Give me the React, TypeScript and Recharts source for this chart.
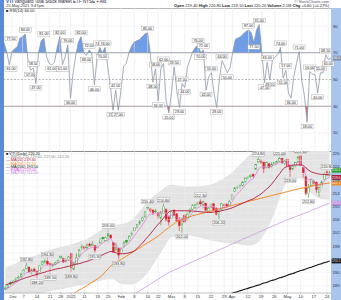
import React from "react";
import { ComposedChart, Line, Area, Bar, XAxis, YAxis, ReferenceLine, ReferenceDot, LabelList } from "recharts";

const days = [
  "Nov 25", "Nov 27", "Nov 30",
  "Dec 1", "Dec 2", "Dec 3", "Dec 4", "Dec 7", "Dec 8", "Dec 9", "Dec 10", "Dec 11", "Dec 14", "Dec 15", "Dec 16", "Dec 17", "Dec 18", "Dec 21", "Dec 22", "Dec 23", "Dec 24", "Dec 28", "Dec 29", "Dec 30", "Dec 31",
  "Jan 4", "Jan 5", "Jan 6", "Jan 7", "Jan 8", "Jan 11", "Jan 12", "Jan 13", "Jan 14", "Jan 15", "Jan 19", "Jan 20", "Jan 21", "Jan 22", "Jan 25", "Jan 26", "Jan 27", "Jan 28", "Jan 29",
  "Feb 1", "Feb 2", "Feb 3", "Feb 4", "Feb 5", "Feb 8", "Feb 9", "Feb 10", "Feb 11", "Feb 12", "Feb 16", "Feb 17", "Feb 18", "Feb 19", "Feb 22", "Feb 23", "Feb 24", "Feb 25", "Feb 26",
  "Mar 1", "Mar 2", "Mar 3", "Mar 4", "Mar 5", "Mar 8", "Mar 9", "Mar 10", "Mar 11", "Mar 12", "Mar 15", "Mar 16", "Mar 17", "Mar 18", "Mar 19", "Mar 22", "Mar 23", "Mar 24", "Mar 25", "Mar 26", "Mar 29", "Mar 30", "Mar 31",
  "Apr 1", "Apr 5", "Apr 6", "Apr 7", "Apr 8", "Apr 9", "Apr 12", "Apr 13", "Apr 14", "Apr 15", "Apr 16", "Apr 19", "Apr 20", "Apr 21", "Apr 22", "Apr 23", "Apr 26", "Apr 27", "Apr 28", "Apr 29", "Apr 30",
  "May 3", "May 4", "May 5", "May 6", "May 7", "May 10", "May 11", "May 12", "May 13", "May 14", "May 17", "May 18", "May 19", "May 20", "May 21", "May 24", "May 25",
];

// oscillator (top panel)
const osc = [
  77.5, 71, 61, 71, 73, 74.5, 81, 82, 84, 65,
  57, 58.5, 47, 70, 79, 81, 67, 62, 61, 63,
  74, 82, 61, 67, 76, 36, 55, 68, 78, 82,
  70, 68, 72, 70, 46, 66, 74, 70, 74, 60,
  45, 27, 42, 27, 42, 60, 62, 70, 75, 78,
  79, 80, 82, 84, 85, 70, 48, 58, 34, 58,
  62, 34, 25, 40, 59.5, 42, 29, 47, 44, 59.5,
  65, 71, 74, 76, 70, 72, 42, 52, 55, 40,
  29, 50, 64, 60, 55, 58.5, 70, 80, 81, 82,
  84, 86, 87, 85, 77.5, 87, 91, 70, 47.5, 63,
  49.5, 65, 67, 68.5, 74, 51, 57, 40, 36, 52,
  62, 71, 49.5, 38, 18, 56, 54, 53.5, 40, 55,
  55, 68.5, 65, 66,
];

// daily prices
const opens = [
  185.0, 185.6, 186.9, 186.8, 187.6, 188.2, 188.9, 189.8, 191.2, 191.6,
  190.0, 191.0, 190.4, 190.0, 192.4, 193.0, 193.4, 192.8, 192.0, 192.5,
  193.0, 195.0, 194.2, 193.5, 194.0, 195.8, 191.0, 192.8, 195.0, 197.6,
  197.9, 197.5, 198.6, 198.1, 198.2, 197.6, 199.0, 200.6, 199.7, 201.8,
  201.3, 199.0, 197.0, 197.2, 196.0, 197.8, 199.8, 200.0, 201.5, 202.8,
  203.8, 205.0, 205.8, 207.0, 209.8, 208.8, 208.9, 208.4, 208.2, 206.5,
  208.0, 209.0, 206.8, 206.5, 208.9, 207.8, 205.9, 204.5, 207.2, 206.0,
  208.0, 209.2, 209.8, 210.6, 211.4, 210.6, 211.0, 208.6, 209.8, 210.8,
  209.3, 207.9, 209.2, 210.2, 210.6, 210.4, 212.2, 214.5, 215.7, 216.0,
  216.4, 217.6, 218.4, 219.0, 219.8, 221.3, 223.5, 224.0, 223.4, 221.9,
  222.9, 222.0, 222.9, 223.5, 223.8, 224.6, 223.0, 224.3, 222.4, 221.4,
  222.3, 223.6, 225.3, 221.8, 219.0, 214.0, 216.4, 217.6, 217.3, 214.2,
  216.0, 218.2, 220.6, 219.4,
];
const highs = [
  185.8, 186.4, 187.3, 187.9, 188.5, 189.0, 190.0, 191.3, 192.8, 191.9,
  191.2, 191.5, 190.7, 192.3, 193.6, 194.1, 194.3, 193.0, 192.8, 193.2,
  194.1, 195.2, 194.5, 194.2, 195.0, 196.0, 193.1, 195.9, 197.1, 198.5,
  198.1, 198.8, 199.0, 199.5, 198.4, 198.9, 200.4, 200.8, 200.9, 203.0,
  201.6, 199.2, 199.0, 197.5, 197.6, 199.6, 200.2, 201.3, 202.4, 203.8,
  204.7, 205.9, 206.9, 208.6, 210.4, 209.6, 209.1, 209.3, 208.4, 208.7,
  210.8, 209.5, 207.4, 208.7, 209.0, 208.0, 206.8, 206.6, 207.9, 208.2,
  209.4, 210.7, 210.6, 211.4, 212.3, 211.8, 211.1, 209.8, 210.9, 211.0,
  209.8, 208.9, 211.0, 210.9, 211.0, 212.0, 213.8, 215.9, 216.3, 216.6,
  217.6, 218.8, 219.1, 219.7, 220.1, 222.9, 224.8, 224.4, 223.6, 223.7,
  223.2, 223.4, 223.6, 224.0, 225.0, 224.7, 224.2, 224.6, 222.5, 222.8,
  223.5, 225.4, 225.6, 221.9, 219.2, 216.8, 218.5, 218.2, 217.6, 216.3,
  218.0, 220.4, 220.9, 220.8,
];
const lows = [
  184.6, 185.2, 186.0, 186.5, 187.1, 187.7, 188.4, 189.5, 190.9, 189.8,
  189.4, 189.9, 188.2, 189.8, 192.0, 192.7, 192.2, 189.5, 191.6, 192.1,
  192.8, 194.1, 192.9, 193.0, 193.6, 189.9, 190.8, 192.6, 194.8, 196.9,
  196.6, 197.0, 197.8, 198.0, 195.9, 197.2, 198.8, 199.7, 199.4, 199.1,
  200.0, 195.9, 196.6, 193.8, 195.3, 197.6, 198.7, 199.6, 201.0, 202.4,
  203.4, 204.4, 205.4, 206.6, 209.0, 208.2, 207.4, 207.9, 206.0, 204.3,
  207.8, 205.5, 204.2, 206.3, 207.1, 205.4, 202.6, 202.0, 205.1, 205.8,
  207.8, 209.0, 209.3, 210.0, 210.3, 209.6, 208.6, 208.2, 209.4, 208.7,
  207.3, 206.2, 208.9, 209.4, 209.6, 210.3, 211.9, 214.3, 215.3, 215.5,
  216.0, 217.2, 218.0, 218.6, 218.8, 221.1, 223.2, 222.8, 220.0, 221.5,
  221.5, 221.8, 222.7, 223.0, 223.5, 222.9, 222.6, 221.8, 219.0, 221.0,
  221.8, 223.4, 222.0, 218.8, 213.4, 212.6, 216.2, 216.0, 214.0, 213.0,
  215.8, 217.9, 219.2, 219.1,
];
const closes = [
  185.3, 186.0, 186.5, 187.4, 188.0, 188.6, 189.5, 190.8, 192.0, 190.2,
  190.8, 190.5, 189.3, 192.0, 193.2, 193.5, 192.6, 192.3, 192.3, 192.9,
  193.8, 194.4, 193.2, 193.8, 194.7, 191.4, 192.6, 194.4, 196.8, 198.0,
  197.4, 198.3, 198.0, 198.6, 196.8, 198.0, 200.1, 200.1, 200.5, 201.0,
  200.5, 196.2, 197.7, 195.3, 197.1, 199.0, 199.2, 201.0, 202.0, 203.5,
  204.4, 205.3, 206.5, 208.3, 209.5, 209.2, 208.0, 208.6, 207.1, 208.3,
  210.0, 205.9, 205.3, 208.3, 207.4, 205.6, 204.1, 206.2, 205.3, 207.7,
  208.6, 210.2, 210.5, 211.1, 210.8, 211.4, 208.9, 209.5, 210.5, 208.9,
  207.7, 208.6, 210.8, 210.5, 210.2, 211.4, 213.5, 215.6, 215.9, 216.2,
  217.4, 218.6, 218.9, 219.5, 219.2, 222.7, 224.2, 223.3, 221.5, 223.3,
  221.8, 222.7, 223.3, 223.6, 224.5, 223.3, 223.9, 222.1, 221.2, 222.1,
  223.3, 224.8, 222.4, 220.2, 213.8, 215.6, 218.2, 217.0, 215.2, 215.8,
  217.4, 219.8, 219.6, 220.2,
];

// overlays
const bbUpper = [
  191.4, 191.7, 192.0, 192.3, 192.6, 193.0, 193.3, 193.7, 194.0, 194.3,
  194.6, 194.9, 195.2, 195.5, 195.8, 196.1, 196.5, 196.8, 197.0, 197.2,
  197.4, 197.6, 197.8, 198.0, 198.2, 198.4, 198.6, 198.9, 199.2, 199.5,
  199.8, 200.2, 200.5, 201.0, 201.5, 202.0, 202.5, 203.0, 203.5, 204.0,
  204.4, 204.4, 204.4, 204.4, 204.6, 204.8, 205.0, 205.4, 205.8, 206.5,
  207.4, 208.4, 209.4, 210.5, 211.3, 212.0, 212.8, 213.5, 214.1, 214.7,
  215.3, 215.9, 216.4, 216.5, 216.4, 216.3, 216.2, 216.1, 216.0, 215.9,
  215.9, 216.0, 216.0, 216.1, 216.1, 216.2, 216.3, 216.4, 216.5, 216.8,
  217.2, 217.6, 218.0, 218.5, 219.0, 219.5, 220.2, 221.0, 221.8, 222.6,
  223.4, 224.2, 225.0, 225.6, 226.1, 226.6, 227.0, 227.2, 227.3, 227.3,
  227.2, 227.2, 227.1, 227.1, 227.0, 227.0, 226.9, 226.8, 226.7, 226.6,
  226.6, 226.5, 226.5, 226.5, 226.6, 226.7, 226.8, 226.8, 226.9, 226.9,
  227.0, 227.0, 227.0, 227.0,
];
const bbLower = [
  181.0, 181.3, 181.5, 181.8, 182.0, 182.3, 182.5, 182.7, 182.9, 183.1,
  183.3, 183.5, 183.6, 183.8, 183.9, 184.1, 184.3, 184.4, 184.6, 184.7,
  184.9, 185.0, 185.2, 185.4, 185.6, 185.7, 185.9, 186.0, 186.2, 186.3,
  186.5, 186.6, 186.8, 187.0, 187.2, 187.4, 187.6, 187.8, 188.0, 188.2,
  188.3, 188.0, 187.6, 187.0, 186.7, 186.6, 186.5, 186.5, 186.5, 186.7,
  187.1, 187.7, 188.4, 189.2, 190.2, 191.3, 192.5, 193.8, 195.0, 196.3,
  197.6, 198.9, 200.2, 200.8, 201.0, 201.1, 201.2, 201.2, 201.3, 201.4,
  201.4, 201.2, 201.0, 200.8, 200.6, 200.4, 200.2, 200.0, 199.8, 199.7,
  199.6, 199.4, 199.3, 199.2, 199.1, 199.0, 198.9, 198.8, 198.7, 198.6,
  198.5, 198.4, 198.3, 198.3, 198.5, 198.9, 199.5, 200.4, 201.6, 203.0,
  204.6, 206.4, 208.4, 210.6, 212.8, 215.0, 216.6, 217.4, 217.9, 218.3,
  218.5, 218.6, 218.6, 218.2, 216.8, 215.2, 214.2, 213.5, 213.0, 212.6,
  212.4, 212.3, 212.2, 212.2,
];
const ma20 = [
  186.2, 186.5, 186.8, 187.0, 187.3, 187.6, 187.9, 188.2, 188.5, 188.7,
  189.0, 189.2, 189.4, 189.7, 189.9, 190.1, 190.4, 190.6, 190.8, 191.0,
  191.2, 191.3, 191.5, 191.7, 191.9, 192.1, 192.3, 192.5, 192.7, 192.9,
  193.2, 193.4, 193.7, 194.0, 194.4, 194.7, 195.1, 195.4, 195.8, 196.1,
  196.4, 196.2, 196.0, 195.7, 195.7, 195.7, 195.8, 196.0, 196.2, 196.6,
  197.3, 198.1, 198.9, 199.9, 200.8, 201.7, 202.7, 203.7, 204.6, 205.5,
  206.5, 207.4, 208.3, 208.7, 208.7, 208.7, 208.7, 208.7, 208.7, 208.7,
  208.7, 208.6, 208.5, 208.5, 208.4, 208.3, 208.3, 208.2, 208.2, 208.3,
  208.4, 208.5, 208.7, 208.9, 209.1, 209.3, 209.6, 209.9, 210.3, 210.6,
  211.0, 211.3, 211.7, 212.0, 212.3, 212.8, 213.3, 213.8, 214.5, 215.2,
  215.9, 216.8, 217.8, 218.9, 219.9, 221.0, 221.8, 222.1, 222.3, 222.5,
  222.6, 222.6, 222.6, 222.4, 221.7, 221.0, 220.5, 220.2, 220.0, 219.8,
  219.7, 219.7, 219.6, 219.6,
];
const ema5 = [
  185.0, 185.3, 185.7, 186.3, 186.9, 187.4, 188.1, 189.0, 190.0, 190.1,
  190.3, 190.4, 190.0, 190.7, 191.5, 192.2, 192.3, 192.3, 192.3, 192.5,
  192.9, 193.4, 193.3, 193.5, 193.9, 193.1, 192.9, 193.4, 194.5, 195.7,
  196.3, 197.0, 197.3, 197.7, 197.4, 197.6, 198.4, 199.0, 199.5, 200.0,
  200.2, 198.9, 198.5, 197.4, 197.3, 197.9, 198.3, 199.2, 200.1, 201.2,
  202.3, 203.3, 204.4, 205.7, 207.0, 207.7, 207.8, 208.1, 207.8, 207.9,
  208.6, 207.7, 206.9, 207.4, 207.4, 206.8, 205.9, 206.0, 205.8, 206.4,
  207.1, 208.1, 208.9, 209.6, 210.0, 210.5, 210.0, 209.8, 210.0, 209.6,
  209.0, 208.9, 209.5, 209.8, 209.9, 210.4, 211.4, 212.8, 213.8, 214.6,
  215.5, 216.5, 217.3, 218.0, 218.4, 219.8, 221.3, 222.0, 221.8, 222.3,
  222.1, 222.3, 222.6, 222.9, 223.4, 223.4, 223.6, 223.1, 222.5, 222.4,
  222.7, 223.4, 223.1, 222.1, 219.3, 218.1, 218.1, 217.7, 216.9, 216.5,
  216.8, 217.8, 218.4, 219.0,
];
const ma50Start = 20;
const ma50 = [
  180.8, 181.2, 181.7, 182.2, 182.7, 183.2, 183.7, 184.2, 184.7, 185.1,
  185.6, 186.1, 186.6, 187.1, 187.6, 188.1, 188.6, 189.4, 190.3, 191.1,
  192.0, 192.5, 193.0, 193.5, 194.0, 194.5, 195.0, 195.5, 196.0, 196.5,
  197.0, 197.5, 198.0, 198.5, 199.0, 199.5, 200.0, 200.5, 201.1, 201.7,
  202.4, 203.0, 203.6, 204.2, 204.8, 205.4, 205.7, 206.0, 206.3, 206.6,
  206.9, 207.2, 207.4, 207.6, 207.8, 208.0, 208.2, 208.4, 208.6, 208.8,
  209.1, 209.3, 209.5, 209.7, 209.9, 210.1, 210.3, 210.5, 210.7, 210.9,
  211.1, 211.3, 211.5, 211.7, 211.9, 212.1, 212.3, 212.5, 212.7, 212.9,
  213.1, 213.3, 213.5, 213.7, 213.9, 214.1, 214.3, 214.5, 214.7, 214.9,
  215.1, 215.3, 215.5, 215.6, 215.8, 215.9, 216.1, 216.3, 216.5, 216.6,
  216.8, 216.9, 217.0, 217.1,
];
const ma150Start = 44;
const ma150 = [
  181.0, 181.5, 182.0, 182.5, 183.0, 183.5, 184.0, 184.5, 185.0, 185.5,
  186.0, 186.5, 187.0, 187.5, 188.0, 188.5, 189.0, 189.5, 190.0, 190.4,
  190.7, 191.1, 191.5, 191.8, 192.2, 192.5, 192.9, 193.2, 193.6, 194.0,
  194.3, 194.7, 195.0, 195.4, 195.8, 196.1, 196.5, 196.8, 197.2, 197.5,
  197.9, 198.3, 198.6, 199.0, 199.3, 199.7, 200.1, 200.4, 200.8, 201.1,
  201.5, 201.8, 202.2, 202.5, 202.9, 203.2, 203.6, 203.9, 204.3, 204.6,
  205.0, 205.3, 205.7, 206.0, 206.3, 206.6, 206.9, 207.2, 207.5, 207.8,
  208.1, 208.4, 208.8, 209.1, 209.4, 209.7, 210.1, 210.4, 210.7, 211.0,
];
const ma200Start = 80;
const ma200 = [
  182.2, 182.5, 182.7, 183.0, 183.2, 183.5, 183.7, 184.0, 184.2, 184.5,
  184.7, 185.0, 185.2, 185.5, 185.7, 186.0, 186.2, 186.5, 186.8, 187.0,
  187.3, 187.6, 187.8, 188.1, 188.4, 188.6, 188.9, 189.2, 189.5, 189.7,
  190.0, 190.3, 190.6, 190.8, 191.1, 191.4, 191.6, 191.9, 192.2, 192.5,
  192.7, 193.0, 193.2, 193.5,
];

const tickDays = ["Dec 1", "Dec 7", "Dec 14", "Dec 21", "Dec 28", "Jan 4", "Jan 11", "Jan 19", "Jan 25", "Feb 1", "Feb 8", "Feb 16", "Feb 22", "Mar 1", "Mar 8", "Mar 15", "Mar 22", "Mar 29", "Apr 1", "Apr 12", "Apr 19", "Apr 26", "May 3", "May 10", "May 17", "May 24"];
const tickLabels = ["Dec", "7", "14", "21", "28", "2021", "11", "19", "25", "Feb", "8", "16", "22", "Mar", "8", "15", "22", "29", "Apr", "12", "19", "26", "May", "10", "17", "24"];
const oscTicks = [10, 30, 50, 70, 90];
const priceTicks = [186, 188, 190, 192, 194, 196, 198, 200, 202, 204, 206, 208, 210, 212, 214, 216, 218, 220, 222, 224, 226];

const FONT = "'Liberation Sans', Arial, sans-serif";
const OSC_MIN = -3.5;
const OSC_MAX = 103.5;
const P_MIN = 183.8;
const P_MAX = 226.8;
const UP = "#2c9c2c";
const DOWN = "#e0202c";

const from = (arr: number[], start: number, i: number) => (i >= start ? arr[i - start] : null);

const oscRows = days.map((d, i) => ({ d, v: osc[i] }));
const priceRows = days.map((d, i) => ({
  d,
  o: opens[i],
  h: highs[i],
  l: lows[i],
  c: closes[i],
  pc: i > 0 ? closes[i - 1] : opens[i],
  hl: [lows[i], highs[i]],
  bb: [bbLower[i], bbUpper[i]],
  mid: ma20[i],
  ema: ema5[i],
  ma50: from(ma50, ma50Start, i),
  ma150: from(ma150, ma150Start, i),
  ma200: from(ma200, ma200Start, i),
}));

const last = days.length - 1;

function Candle(props: any) {
  const { x, y, width, height, payload } = props;
  if (!payload || x == null) return null;
  const top = Math.min(y, y + height);
  const hh = Math.abs(height);
  const { o, h, l, c, pc } = payload;
  const k = hh / (h - l || 1);
  const yo = top + (h - o) * k;
  const yc = top + (h - c) * k;
  const col = c >= pc ? UP : DOWN;
  const hollow = c > o;
  const cx = x + width / 2;
  const bw = Math.max(1.6, width * 0.85);
  return (
    <g>
      <line x1={cx} x2={cx} y1={top} y2={top + hh} stroke={col} strokeWidth={0.6} />
      <rect
        x={cx - bw / 2}
        y={Math.min(yo, yc)}
        width={bw}
        height={Math.max(0.6, Math.abs(yc - yo))}
        fill={hollow ? "#ffffff" : col}
        stroke={col}
        strokeWidth={0.5}
      />
    </g>
  );
}

function ValueBox({ x, y, text }: { x: number; y: number; text: string }) {
  const cx = Math.max(x, 7);
  return (
    <g>
      <rect x={cx - 6} y={y} width={12} height={4.6} fill="#fff" stroke="#9a9a9a" strokeWidth={0.4} />
      <text x={cx} y={y + 3.7} fontSize={3.7} textAnchor="middle" fill="#222" fontFamily={FONT}>
        {text}
      </text>
    </g>
  );
}

function oscLabel(p: any) {
  const { x, y, index } = p;
  if (index >= osc.length - 1) return null;
  const v = osc[index];
  const prev = index > 0 ? osc[index - 1] : null;
  const next = osc[index + 1];
  const peak = (prev == null || v > prev) && v >= next;
  const trough = (prev == null || v < prev) && v <= next;
  if (!peak && !trough) return null;
  return <ValueBox x={x} y={peak ? y - 6.5 : y + 2} text={v.toFixed(2)} />;
}

const pivot = (arr: number[], i: number, hi: boolean) => {
  for (let j = i - 4; j <= i + 4; j++) {
    if (j === i || j < 0 || j >= arr.length) continue;
    if (hi ? arr[j] > arr[i] || (j < i && arr[j] === arr[i]) : arr[j] < arr[i] || (j < i && arr[j] === arr[i])) return false;
  }
  return true;
};

function priceLabel(p: any) {
  const { x, y, width, height, index } = p;
  if (index < 1 || index >= days.length - 1) return null;
  const top = Math.min(y, y + height);
  const bot = top + Math.abs(height);
  const cx = x + width / 2;
  const out = [];
  if (pivot(highs, index, true)) out.push(<ValueBox key="h" x={cx} y={top - 6} text={highs[index].toFixed(2)} />);
  if (pivot(lows, index, false)) out.push(<ValueBox key="l" x={cx} y={bot + 1.4} text={lows[index].toFixed(2)} />);
  return <g>{out}</g>;
}

function axisBox(fill: string, text: string, dy = 0) {
  return (p: any) => (
    <g>
      <rect x={p.cx + 2} y={p.cy - 2.4 + dy} width={10} height={4.8} fill={fill} />
      <text x={p.cx + 2.4} y={p.cy + 1.3 + dy} fontSize={3.3} fill="#fff" fontFamily={FONT}>
        {text}
      </text>
    </g>
  );
}

const tickStyle = { fontSize: 4.2, fill: "#2a3340", fontFamily: FONT };
const offUp = (OSC_MAX - 70) / (OSC_MAX - OSC_MIN);
const offDn = (OSC_MAX - 30) / (OSC_MAX - OSC_MIN);

const legend = [
  { t: "\u25A0 VTI (Daily) 220.20", c: "#111" },
  { t: "\u2014 BB(20,2.0) 219.60, 227.00, 212.20", c: "#888" },
  { t: "\u2014 MA(20) 219.60", c: "#b0173a" },
  { t: "\u2014 MA(50) 217.10", c: "#f08a24" },
  { t: "\u2014 MA(200) 193.50", c: "#111" },
  { t: "\u2014 EMA(5) 219.00", c: "#d33cd3" },
  { t: "\u2014 MA(150) 211.00", c: "#b98ad8" },
];

export default function App() {
  return (
    <div style={{ position: "fixed", left: 0, top: 0, width: 341, height: 300, background: "#fff", overflow: "hidden", fontFamily: FONT }}>
      <div style={{ position: "absolute", left: 0, top: 0, width: 4, height: 300, background: "#5b8ad6" }} />
      <div style={{ position: "absolute", left: 331, top: 8, width: 10, height: 292, background: "#a9c5ee" }} />
      <div style={{ position: "absolute", left: 6, top: 0, fontSize: 4.5, lineHeight: "4.5px", color: "#223" }}>
        <b style={{ color: "#1d4fa3" }}>VTI</b> Vanguard Total Stock Market ETF NYSE + Ast
      </div>
      <div style={{ position: "absolute", left: 6, top: 4, fontSize: 4, lineHeight: "4px", color: "#333" }}>25-May-2021 3:47pm</div>
      <div style={{ position: "absolute", right: 12, top: 0, fontSize: 4, lineHeight: "4px", color: "#556" }}>{"\u00A9 StockCharts.com"}</div>
      <div style={{ position: "absolute", right: 12, top: 4, fontSize: 4, lineHeight: "4px", color: "#222", whiteSpace: "nowrap" }}>
        <b>Open</b> 219.40 <b>High</b> 220.80 <b>Low</b> 219.10 <b>Last</b> 220.20 <b>Volume</b> 2.1M <b>Chg</b> +0.60 (+0.27%)
      </div>
      <div style={{ position: "absolute", left: 4, top: 8, width: 327, height: 1, background: "#b5b5b5" }} />

      <div style={{ position: "absolute", left: 4, top: 8 }}>
        <ComposedChart width={337} height={143} data={oscRows} margin={{ top: 0, right: 0, bottom: 0, left: 0 }}>
          <defs>
            <linearGradient id="oscUp" gradientUnits="userSpaceOnUse" x1="0" y1="0" x2="0" y2="143">
              <stop offset={offUp} stopColor="#6f9de6" />
              <stop offset={offUp} stopColor="#6f9de6" stopOpacity={0} />
            </linearGradient>
            <linearGradient id="oscDn" gradientUnits="userSpaceOnUse" x1="0" y1="0" x2="0" y2="143">
              <stop offset={offDn} stopColor="#e0607e" stopOpacity={0} />
              <stop offset={offDn} stopColor="#e0607e" />
            </linearGradient>
          </defs>
          <XAxis dataKey="d" hide />
          <YAxis
            orientation="right"
            width={10}
            domain={[OSC_MIN, OSC_MAX]}
            ticks={oscTicks}
            allowDataOverflow
            tick={tickStyle}
            tickLine={false}
            tickSize={0}
            axisLine={false}
            tickMargin={2}
          />
          {tickDays.map((t) => (
            <ReferenceLine key={t} x={t} stroke="#e6e9ee" strokeWidth={0.6} />
          ))}
          <ReferenceLine y={90} stroke="#eceef2" strokeWidth={0.6} />
          <ReferenceLine y={10} stroke="#eceef2" strokeWidth={0.6} />
          <ReferenceLine y={70} stroke="#8a8a8a" strokeWidth={0.7} />
          <ReferenceLine y={50} stroke="#8a8a8a" strokeWidth={0.6} strokeDasharray="2 1.5" />
          <ReferenceLine y={30} stroke="#8a8a8a" strokeWidth={0.7} />
          <Area dataKey="v" baseValue={70} type="linear" fill="url(#oscUp)" fillOpacity={1} stroke="none" isAnimationActive={false} />
          <Area dataKey="v" baseValue={30} type="linear" fill="url(#oscDn)" fillOpacity={1} stroke="none" isAnimationActive={false} />
          <Line dataKey="v" type="linear" stroke="#8e98a6" strokeWidth={0.8} dot={false} isAnimationActive={false}>
            <LabelList dataKey="v" content={oscLabel} />
          </Line>
          <ReferenceDot x={days[last]} y={osc[last]} r={0} ifOverflow="visible" shape={axisBox("#7d8ea6", osc[last].toFixed(1))} />
        </ComposedChart>
      </div>
      <div style={{ position: "absolute", left: 6, top: 9, fontSize: 4, lineHeight: "4px", color: "#222" }}>
        {"\u25A0 RSI(14) " + osc[last].toFixed(2)}
      </div>

      <div style={{ position: "absolute", left: 4, top: 151, width: 327, height: 1, background: "#8a8a8a" }} />

      <div style={{ position: "absolute", left: 4, top: 151 }}>
        <ComposedChart width={337} height={149} data={priceRows} margin={{ top: 0, right: 0, bottom: 0, left: 0 }} barCategoryGap="10%">
          <XAxis
            dataKey="d"
            ticks={tickDays}
            interval={0}
            tickFormatter={(v: string) => tickLabels[tickDays.indexOf(v)] ?? ""}
            tick={tickStyle}
            height={7}
            tickSize={1.5}
            tickMargin={0.5}
            axisLine={{ stroke: "#9a9a9a", strokeWidth: 0.6 }}
            tickLine={{ stroke: "#9a9a9a", strokeWidth: 0.5 }}
          />
          <YAxis
            orientation="right"
            width={10}
            domain={[P_MIN, P_MAX]}
            ticks={priceTicks}
            allowDataOverflow
            tick={tickStyle}
            tickLine={false}
            tickSize={0}
            axisLine={false}
            tickMargin={1.5}
          />
          {tickDays.map((t) => (
            <ReferenceLine key={t} x={t} stroke="#e6e9ee" strokeWidth={0.6} />
          ))}
          {priceTicks.map((t) => (
            <ReferenceLine key={"h" + t} y={t} stroke="#f0f1f4" strokeWidth={0.5} />
          ))}
          <Area dataKey="bb" type="monotone" fill="#e4e4e4" fillOpacity={1} stroke="#d6d6d6" strokeWidth={0.5} isAnimationActive={false} />
          <Line dataKey="ma200" type="monotone" stroke="#111" strokeWidth={1.1} dot={false} isAnimationActive={false} />
          <Line dataKey="ma150" type="monotone" stroke="#c79ae0" strokeWidth={0.8} dot={false} isAnimationActive={false} />
          <Line dataKey="ma50" type="monotone" stroke="#f08a24" strokeWidth={1} dot={false} isAnimationActive={false} />
          <Line dataKey="mid" type="monotone" stroke="#b0173a" strokeWidth={0.9} dot={false} isAnimationActive={false} />
          <Line dataKey="ema" type="monotone" stroke="#e25ad8" strokeWidth={0.6} dot={false} isAnimationActive={false} />
          <Bar dataKey="hl" shape={Candle} isAnimationActive={false}>
            <LabelList dataKey="c" content={priceLabel} />
          </Bar>
          <ReferenceDot x={days[last]} y={ma200[ma200.length - 1]} r={0} ifOverflow="visible" shape={axisBox("#111", ma200[ma200.length - 1].toFixed(1))} />
          <ReferenceDot x={days[last]} y={ma150[ma150.length - 1]} r={0} ifOverflow="visible" shape={axisBox("#b98ad8", ma150[ma150.length - 1].toFixed(1))} />
          <ReferenceDot x={days[last]} y={ma50[ma50.length - 1]} r={0} ifOverflow="visible" shape={axisBox("#f08a24", ma50[ma50.length - 1].toFixed(1))} />
          <ReferenceDot x={days[last]} y={ma20[last]} r={0} ifOverflow="visible" shape={axisBox("#b0173a", ma20[last].toFixed(1), 2.6)} />
          <ReferenceDot x={days[last]} y={closes[last]} r={0} ifOverflow="visible" shape={axisBox("#2c9c2c", closes[last].toFixed(1), -2.6)} />
        </ComposedChart>
      </div>
      <div style={{ position: "absolute", left: 6, top: 153 }}>
        {legend.map((g) => (
          <div key={g.t} style={{ fontSize: 3.8, lineHeight: "3.2px", color: g.c, whiteSpace: "nowrap" }}>
            {g.t}
          </div>
        ))}
      </div>
    </div>
  );
}
